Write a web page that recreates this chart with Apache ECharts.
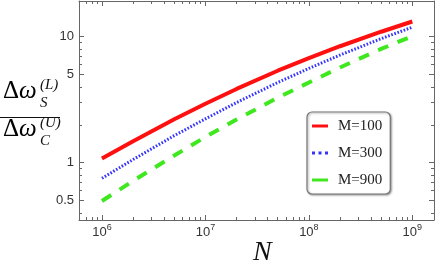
<!DOCTYPE html>
<html><head><meta charset="utf-8">
<script src="https://cdn.jsdelivr.net/npm/echarts@6/dist/echarts.min.js"></script>
<style>html,body{margin:0;padding:0;background:#fff}#c{width:436px;height:267px}</style>
</head><body><div id="c"></div>
<script>
const N = [1e6, 2e6, 5e6, 1e7, 2e7, 5e7, 1e8, 2e8, 5e8, 1e9];
const m100 = [1.08, 1.48, 2.21, 2.94, 3.85, 5.37, 6.75, 8.4, 10.95, 13.2];
const m300 = [0.752, 1.06, 1.64, 2.23, 3.00, 4.33, 5.6, 7.15, 9.65, 11.9];
const m900 = [0.497, 0.718, 1.14, 1.60, 2.20, 3.28, 4.33, 5.7, 8.0, 10.1];
const seriesNames = ['M=100', 'M=300', 'M=900'];
const xMajor = [1e6, 1e7, 1e8, 1e9];
const xMinor = [6e5, 7e5, 8e5, 9e5, 2e6, 3e6, 4e6, 5e6, 6e6, 7e6, 8e6, 9e6,
  2e7, 3e7, 4e7, 5e7, 6e7, 7e7, 8e7, 9e7, 2e8, 3e8, 4e8, 5e8, 6e8, 7e8, 8e8, 9e8];
const yMajor = [0.5, 1, 5, 10];
const yMinor = [0.4, 0.6, 0.7, 0.8, 0.9, 2, 3, 4, 6, 7, 8, 9];

const X_MIN = 6.0e5, X_MAX = 1.62e9, Y_MIN = 0.351, Y_MAX = 19.2;
const frame = '#666';
const labelFont = 'Liberation Sans';
const serif = 'Liberation Serif';
const colors = ['#ff1010', '#3535ff', '#3fe81e'];

function xAx(pos, ticks, len, line, labels) {
  return {
    type: 'log', logBase: 10, min: X_MIN, max: X_MAX, position: pos,
    axisLine: { show: line, lineStyle: { color: frame, width: 1 } },
    axisTick: { show: true, inside: true, length: len, customValues: ticks, lineStyle: { color: frame, width: 1 } },
    axisLabel: labels ? {
      show: true, customValues: ticks, margin: 3,
      formatter: v => '{b|10}{s|' + Math.round(Math.log10(v)) + '}',
      rich: { b: { fontSize: 13, fontFamily: labelFont, color: '#333', lineHeight: 16, verticalAlign: 'bottom' },
              s: { fontSize: 9, fontFamily: labelFont, color: '#333', lineHeight: 10, verticalAlign: 'top' } }
    } : { show: false },
    splitLine: { show: false }, minorTick: { show: false }
  };
}
function yAx(pos, ticks, len, line, labels) {
  return {
    type: 'log', logBase: 10, min: Y_MIN, max: Y_MAX, position: pos,
    axisLine: { show: line, lineStyle: { color: frame, width: 1 } },
    axisTick: { show: true, inside: true, length: len, customValues: ticks, lineStyle: { color: frame, width: 1 } },
    axisLabel: labels ? {
      show: true, customValues: ticks, margin: 5,
      fontSize: 13, fontFamily: labelFont, color: '#333',
      formatter: v => String(+(+v).toPrecision(3))
    } : { show: false },
    splitLine: { show: false }, minorTick: { show: false }
  };
}

const chart = echarts.init(document.getElementById('c'), null, { renderer: 'canvas' });
const mk = arr => N.map((n, i) => [n, arr[i]]);
const lineIcon = 'path://M0,0H16V3H0Z';
const dotIcon = 'path://M0,0H3V3H0Z M6.5,0H9.5V3H6.5Z M13,0H16V3H13Z';
const fracRich = {
  u: { fontFamily: serif, fontSize: 25, color: '#111' },
  i: { fontFamily: serif, fontSize: 25, fontStyle: 'italic', color: '#111' }
};
chart.setOption({
  animation: false,
  backgroundColor: '#fff',
  grid: { left: 79, top: 1, right: 2, bottom: 47, containLabel: false },
  xAxis: [
    xAx('bottom', xMajor, 5, true, true),
    xAx('bottom', xMinor, 3, false, false),
    xAx('top', xMajor, 5, true, false),
    xAx('top', xMinor, 3, false, false)
  ],
  yAxis: [
    yAx('left', yMajor, 5, true, true),
    yAx('left', yMinor, 3, false, false),
    yAx('right', yMajor, 5, true, false),
    yAx('right', yMinor, 3, false, false)
  ],
  legend: {
    data: [
      { name: seriesNames[0], icon: lineIcon, itemStyle: { color: colors[0] } },
      { name: seriesNames[1], icon: dotIcon, itemStyle: { color: colors[1] } },
      { name: seriesNames[2], icon: lineIcon, itemStyle: { color: colors[2] } }
    ],
    orient: 'vertical', left: 307, top: 112,
    padding: [6, 8, 6, 5], itemGap: 11, itemWidth: 16, itemHeight: 3,
    borderColor: '#777', borderWidth: 1.2, borderRadius: 5, backgroundColor: '#fff',
    shadowColor: 'rgba(0,0,0,0.35)', shadowBlur: 2, shadowOffsetX: 1, shadowOffsetY: 1,
    textStyle: { fontFamily: serif, fontSize: 15, color: '#222', lineHeight: 16, padding: [0, 0, 0, 5] }
  },
  series: [
    { name: seriesNames[0], type: 'line', data: mk(m100), showSymbol: false, symbol: 'none', smooth: false,
      color: colors[0], lineStyle: { color: colors[0], width: 4 } },
    { name: seriesNames[1], type: 'line', data: mk(m300), showSymbol: false, symbol: 'none', smooth: false,
      color: colors[1], lineStyle: { color: colors[1], width: 3, type: [1.6, 1.7] } },
    { name: seriesNames[2], type: 'line', data: mk(m900), showSymbol: false, symbol: 'none', smooth: false,
      color: colors[2], lineStyle: { color: colors[2], width: 4, type: [11, 10] } }
  ],
  graphic: [
    { type: 'text', left: 253, top: 239, style: { text: 'N', font: 'italic 28px "Liberation Serif"', fill: '#111' } },
    { type: 'text', x: 3, y: 104, style: { text: '{u|Δ}{i|ω}', rich: fracRich, textVerticalAlign: 'bottom' } },
    { type: 'text', x: 40, y: 85, style: { text: '(L)', font: 'italic 15px "Liberation Serif"', fill: '#111', textVerticalAlign: 'middle' } },
    { type: 'text', x: 40, y: 103, style: { text: 'S', font: 'italic 15px "Liberation Serif"', fill: '#111', textVerticalAlign: 'middle' } },
    { type: 'line', shape: { x1: 0, y1: 117.5, x2: 60, y2: 117.5 }, style: { stroke: '#111', lineWidth: 1 } },
    { type: 'text', x: 3, y: 142, style: { text: '{u|Δ}{i|ω}', rich: fracRich, textVerticalAlign: 'bottom' } },
    { type: 'text', x: 40, y: 123, style: { text: '(U)', font: 'italic 15px "Liberation Serif"', fill: '#111', textVerticalAlign: 'middle' } },
    { type: 'text', x: 40, y: 141, style: { text: 'C', font: 'italic 15px "Liberation Serif"', fill: '#111', textVerticalAlign: 'middle' } }
  ]
});
</script></body></html>
